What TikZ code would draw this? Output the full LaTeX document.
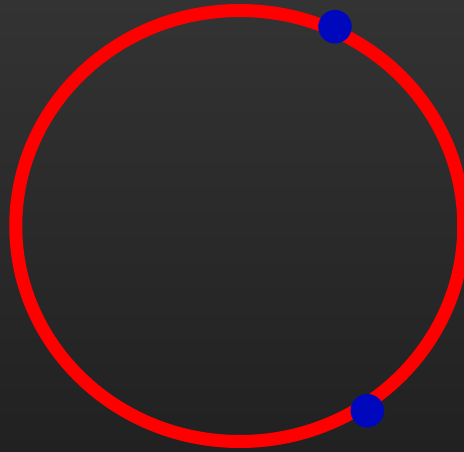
\documentclass[tikz,border=0pt]{standalone}
\begin{document}
\begin{tikzpicture}[x=1pt,y=-1pt]
\definecolor{bgtop}{RGB}{51,51,51}
\definecolor{bgbot}{RGB}{33,33,33}
\definecolor{ringred}{RGB}{255,0,0}
\definecolor{dotblue}{RGB}{0,8,190}
\tikzset{ring/.style={draw=ringred,line width=13pt},
  dot/.style={circle,fill=dotblue,minimum size=33.5pt,inner sep=0pt}}
\useasboundingbox (0,0) rectangle (464,451);
\shade[top color=bgtop,bottom color=bgbot] (0,0) rectangle (464,451);
\draw[ring] (239.75,226) ellipse [x radius=224,y radius=215.5];
\node[dot] (d1) at (335,26.7) {};
\node[dot] (d2) at (367.3,410.7) {};
\end{tikzpicture}
\end{document}
